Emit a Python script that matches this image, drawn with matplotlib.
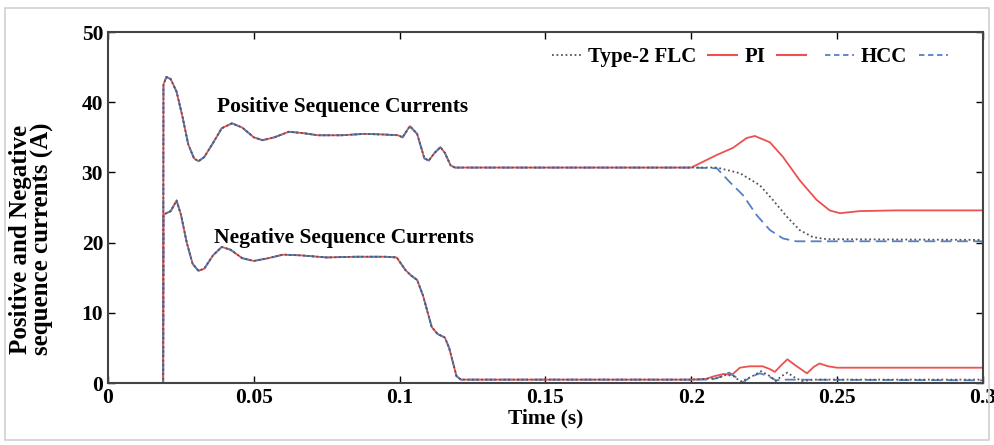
import numpy as np
import matplotlib
matplotlib.use("Agg")
import matplotlib.pyplot as plt
from matplotlib.patches import Rectangle

plt.rcParams['font.family'] = ['Liberation Serif', 'DejaVu Serif']
plt.rcParams['font.weight'] = 'bold'

# shared part of the response (all three controllers overlap before 0.2 s)
t_pos_common = [0, 0.0189, 0.0190, 0.0200, 0.0215, 0.0235, 0.0255, 0.0275, 0.0295, 0.031,
                0.033, 0.036, 0.039, 0.0425, 0.046, 0.050, 0.053, 0.057, 0.062, 0.067,
                0.072, 0.080, 0.088, 0.095, 0.0995, 0.101, 0.1035, 0.106, 0.1085, 0.110,
                0.112, 0.114, 0.1155, 0.1175, 0.119, 0.2]
i_pos_common = [0, 0, 42.5, 43.6, 43.3, 41.5, 38.0, 34.0, 32.0, 31.6,
                32.2, 34.2, 36.3, 37.0, 36.4, 35.0, 34.6, 35.0, 35.8, 35.6,
                35.3, 35.3, 35.5, 35.4, 35.3, 35.0, 36.6, 35.5, 32.0, 31.7,
                32.8, 33.6, 32.8, 31.0, 30.7, 30.7]

t_neg_common = [0, 0.0189, 0.0190, 0.0215, 0.0235, 0.025, 0.027, 0.029, 0.031, 0.033,
                0.036, 0.039, 0.042, 0.046, 0.050, 0.055, 0.060, 0.066, 0.075, 0.085,
                0.095, 0.099, 0.102, 0.104, 0.106, 0.108, 0.111, 0.113, 0.1155, 0.117,
                0.1195, 0.121, 0.2]
i_neg_common = [0, 0, 24.0, 24.5, 26.0, 24.0, 20.0, 17.0, 16.0, 16.3,
                18.2, 19.4, 19.0, 17.8, 17.4, 17.8, 18.3, 18.2, 17.9, 18.0,
                18.0, 17.9, 16.1, 15.3, 14.7, 12.5, 8.0, 7.0, 6.5, 5.0,
                1.0, 0.5, 0.5]

# after the 0.2 s event
t_pos_pi = [0.2005, 0.2088, 0.2143, 0.219, 0.2218, 0.227, 0.2315, 0.2372, 0.243, 0.2475,
            0.251, 0.2578, 0.27, 0.3]
i_pos_pi = [30.8, 32.5, 33.5, 34.9, 35.2, 34.3, 32.2, 28.9, 26.1, 24.6,
            24.2, 24.5, 24.6, 24.6]

t_pos_flc = [0.2088, 0.2167, 0.2235, 0.228, 0.2328, 0.2372, 0.2417, 0.2465, 0.3]
i_pos_flc = [30.7, 29.9, 28.2, 26.1, 23.7, 21.8, 20.8, 20.5, 20.4]

t_pos_hcc = [0.2088, 0.2133, 0.2177, 0.2225, 0.227, 0.2315, 0.236, 0.3]
i_pos_hcc = [30.6, 28.6, 26.8, 23.9, 21.8, 20.6, 20.2, 20.2]

t_neg_pi = [0.205, 0.208, 0.211, 0.214, 0.2167, 0.22, 0.2245, 0.227, 0.2287, 0.231,
            0.233, 0.2355, 0.2397, 0.242, 0.244, 0.247, 0.25, 0.3]
i_neg_pi = [0.6, 1.0, 1.3, 1.2, 2.2, 2.4, 2.4, 2.0, 1.6, 2.6,
            3.4, 2.6, 1.4, 2.3, 2.8, 2.4, 2.2, 2.2]

t_neg_flc = [0.209, 0.212, 0.2145, 0.217, 0.221, 0.224, 0.227, 0.229, 0.231, 0.233,
             0.2355, 0.238, 0.242, 0.3]
i_neg_flc = [0.7, 1.2, 1.0, 0.2, 1.0, 1.7, 1.0, 0.3, 1.0, 1.5,
             0.8, 0.3, 0.5, 0.5]

t_neg_hcc = [0.207, 0.21, 0.213, 0.2155, 0.2177, 0.2205, 0.2235, 0.2265, 0.229, 0.232, 0.3]
i_neg_hcc = [0.5, 0.9, 1.5, 0.8, 0.1, 0.9, 1.4, 1.0, 0.4, 0.5, 0.4]

x_ticks = [0, 0.05, 0.1, 0.15, 0.2, 0.25, 0.3]
x_tick_labels = ['0', '0.05', '0.1', '0.15', '0.2', '0.25', '0.3']
y_ticks = [0, 10, 20, 30, 40, 50]

red = '#ec5050'
blue = '#5580c4'
grey = '#555555'
flc_ls = (0, (1, 1.5))
hcc_ls = (0, (6, 3))

fig = plt.figure(figsize=(9.94, 4.45), dpi=100)
ax = fig.add_axes([0.1087, 0.139, 0.880, 0.789])

fig.patches.append(Rectangle((0.005, 0.012), 0.99, 0.97, transform=fig.transFigure,
                             fill=False, edgecolor='#d0d0d0', linewidth=1.2))

def series(tc, vc, t2, v2):
    return list(tc) + list(t2), list(vc) + list(v2)

for tc, vc, pi, flc, hcc in [
        (t_pos_common, i_pos_common, (t_pos_pi, i_pos_pi), (t_pos_flc, i_pos_flc), (t_pos_hcc, i_pos_hcc)),
        (t_neg_common, i_neg_common, (t_neg_pi, i_neg_pi), (t_neg_flc, i_neg_flc), (t_neg_hcc, i_neg_hcc))]:
    t, v = series(tc, vc, *pi)
    ax.plot(t, v, color=red, lw=1.3)
    t, v = series(tc, vc, *hcc)
    ax.plot(t, v, color=blue, lw=1.3, ls=hcc_ls)
    t, v = series(tc, vc, *flc)
    ax.plot(t, v, color=grey, lw=1.3, ls=flc_ls)

# legend mimics the original: PI and HCC get a line on both sides of the label
h_flc, = ax.plot([], [], color=grey, lw=1.3, ls=flc_ls)
h_pi, = ax.plot([], [], color=red, lw=1.5)
h_hcc, = ax.plot([], [], color=blue, lw=1.3, ls=(0, (3, 2)))
ax.legend([h_flc, h_pi, h_pi, h_hcc, h_hcc], ['Type-2 FLC', 'PI', '', 'HCC', ''],
          ncol=5, frameon=False, loc='upper right', bbox_to_anchor=(0.99, 1.01),
          handlelength=1.4, handletextpad=0.35, columnspacing=0.55,
          prop={'weight': 'bold', 'size': 15})

ax.text(0.0375, 38.6, 'Positive Sequence Currents', fontsize=15.5, fontweight='bold')
ax.text(0.0365, 19.9, 'Negative Sequence Currents', fontsize=15.5, fontweight='bold')

ax.set_xlim(0, 0.3)
ax.set_ylim(0, 50)
ax.set_xticks(x_ticks)
ax.set_xticklabels(x_tick_labels)
ax.set_yticks(y_ticks)
ax.tick_params(direction='in', top=True, right=True, labelsize=15.5, length=5, width=1)
for lab in ax.get_xticklabels() + ax.get_yticklabels():
    lab.set_fontweight('bold')
for s in ax.spines.values():
    s.set_color('#444444')
    s.set_linewidth(1.5)

ax.set_xlabel('Time (s)', fontsize=15.5, fontweight='bold', labelpad=0)
ax.set_ylabel('Positive and Negative\nsequence currents (A)', fontsize=18,
              fontweight='bold', linespacing=0.9)
ax.yaxis.set_label_coords(-0.062, 0.41)

fig.savefig('out.png', dpi=100)
